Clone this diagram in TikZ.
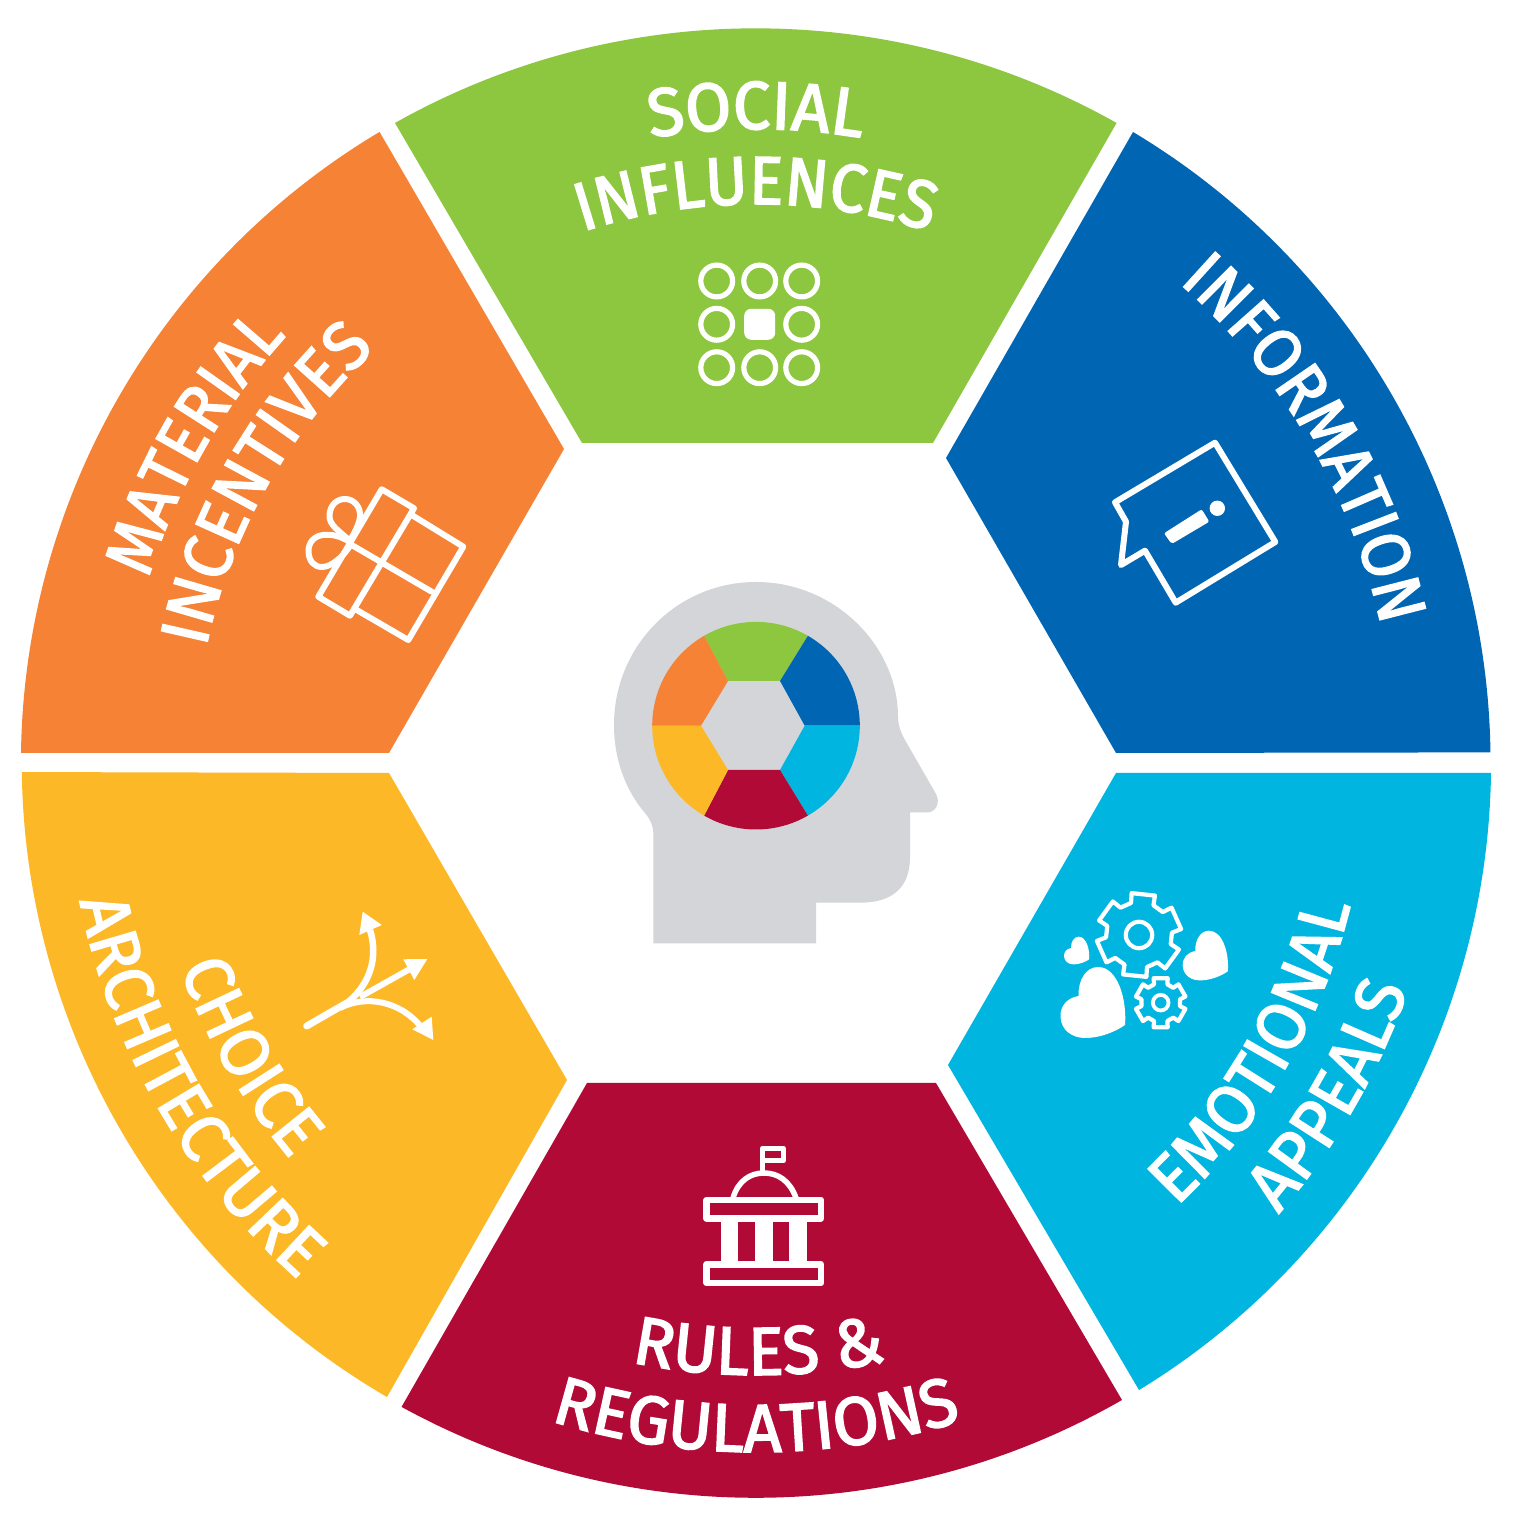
\documentclass[tikz,border=0pt]{standalone}
\usepackage{fontspec}
\usetikzlibrary{decorations.text}
\newfontfamily\labfont[FakeStretch=0.985,FakeBold=2.4]{Fira Sans}
\newfontfamily\labnarrow[FakeStretch=0.945,FakeBold=2.4]{Fira Sans}
\definecolor{cgreen}{HTML}{8DC63F}
\definecolor{cblue}{HTML}{0065B3}
\definecolor{ccyan}{HTML}{00B6E0}
\definecolor{cred}{HTML}{B20A37}
\definecolor{cyellow}{HTML}{FDB827}
\definecolor{corange}{HTML}{F58235}
\definecolor{cgray}{HTML}{D4D5D9}
\tikzset{
  iconline/.style={draw=white,line width=6pt,line join=round,line cap=round},
  iconthin/.style={draw=white,line width=4.2pt,line join=round,line cap=round},
  iconfill/.style={fill=white,draw=none}
}
% [font] baseline radius, start angle, end angle, text
\newcommand\arclabel[5][\labfont]{%
  \path[decorate,decoration={text along path,text={|\fontsize{68}{68}#1\color{white}|#5},text align=center}]
    ([shift={(#3:#2)}]756,763) arc[start angle=#3,end angle=#4,radius=#2];}
\newcommand\heartshape[3]{%
  \fill[white,shift={(#1,#2)},scale=#3] (64.5,58) .. controls (66.5,33) and (57.5,0) .. (37.5,0)
    .. controls (25.5,0) and (17.5,13) .. (18,29) .. controls (6.5,31) and (-0.5,39) .. (0,50)
    .. controls (0.5,63) and (11.5,71) .. (24.5,71) .. controls (39.5,71) and (54.5,65) .. (64.5,58) -- cycle;}
% cx cy outer root rotation
\newcommand\gearshape[5]{%
  \draw[iconthin,shift={(#1,#2)},rotate=#5] (-16:#3)
    \foreach \k in {0,60,...,300}{ -- (\k-16:#3) -- (\k+16:#3) -- (\k+20:#4) -- (\k+40:#4) } -- cycle;}
\begin{document}
\begin{tikzpicture}[x=1pt,y=1pt]
\useasboundingbox (0,0) rectangle (1514,1526);
\fill[white] (0,0) rectangle (1514,1526);
\begin{scope}[yscale=-1,shift={(0,-1526)}]
  % wheel
  \fill[cgreen] (395,123) arc[start angle=-119.4,end angle=-60.6,radius=735] -- (933,443) -- (582,443) -- cycle;
  \fill[cblue] (1133,132) arc[start angle=-59.1,end angle=-0.8,radius=735] -- (1116,753) -- (946,458) -- cycle;
  \fill[ccyan] (1491,773) arc[start angle=0.8,end angle=58.6,radius=735] -- (948,1065) -- (1116,773) -- cycle;
  \fill[cred] (1122,1400) arc[start angle=60.1,end angle=118.8,radius=735] -- (587,1083) -- (936,1083) -- cycle;
  \fill[cyellow] (387,1397) arc[start angle=120.2,end angle=179.2,radius=735] -- (389,773) -- (567,1080) -- cycle;
  \fill[corange] (21,753) arc[start angle=180.8,end angle=239.2,radius=735] -- (564,449) -- (389,753) -- cycle;
  % head
  \fill[cgray] (653.3,943.3) -- (653.3,833) .. controls (653,825) and (650,819) .. (645,813)
    .. controls (626,791) and (614,760) .. (614,725) .. controls (614,646) and (677,582) .. (756,582)
    .. controls (835,582) and (898,646) .. (898,717) .. controls (898,725) and (901,733) .. (905,740)
    -- (936,794) .. controls (941,803) and (935,812.3) .. (928,812.3) -- (910,812.3) -- (910,857)
    .. controls (910,888) and (892,902.7) .. (860,902.7) -- (816,902.7) -- (816,943.3) -- cycle;
  % mini wheel
  \fill[cgreen] (704.1,635.8) arc[start angle=-120,end angle=-60,radius=103.8] -- (780,681) -- (728,681) -- cycle;
  \fill[cblue] (807.9,635.8) arc[start angle=-60,end angle=0,radius=103.8] -- (804.7,725.7) -- (780,681) -- cycle;
  \fill[ccyan] (859.8,725.7) arc[start angle=0,end angle=60,radius=103.8] -- (780,770) -- (804.7,725.7) -- cycle;
  \fill[cred] (807.9,815.6) arc[start angle=60,end angle=120,radius=103.8] -- (728,770) -- (780,770) -- cycle;
  \fill[cyellow] (704.1,815.6) arc[start angle=120,end angle=180,radius=103.8] -- (701,725.7) -- (728,770) -- cycle;
  \fill[corange] (652.2,725.7) arc[start angle=180,end angle=240,radius=103.8] -- (728,681) -- (701,725.7) -- cycle;
  % social icon
  \foreach \x in {716.7,759.7,801.7}{\foreach \y in {281,324.3,367.7}{
     \ifdim\x pt=759.7pt \ifdim\y pt=324.3pt \else \draw[draw=white,line width=5.2pt] (\x,\y) circle[radius=15.9]; \fi
     \else \draw[draw=white,line width=5.2pt] (\x,\y) circle[radius=15.9]; \fi}}
  \fill[white,rounded corners=7pt] (744.2,308.8) rectangle (775.2,339.8);
  % info icon
  \draw[iconline] (1215,442.7) -- (1275.3,542) -- (1175.7,602.7) -- (1145,550.7) -- (1121,565) -- (1126,521.7) -- (1115,502.3) -- cycle;
  \fill[white,rounded corners=2pt] (1164,533.3) -- (1201.7,509.3) -- (1209.3,521.7) -- (1171.7,544) -- cycle;
  \fill[white] (1217.3,508.3) circle[radius=7.7];
  % emotion icon
  \gearshape{1139}{935}{42.5}{33}{-84}
  \draw[draw=white,line width=4.2pt] (1139,935) circle[radius=13.2];
  \gearshape{1160.7}{1002.7}{25.5}{19.5}{-90}
  \draw[draw=white,line width=3.8pt] (1160.7,1002.7) circle[radius=7.8];
  \heartshape{1060.5}{967}{1}
  \heartshape{1182.7}{930.7}{0.7}
  \heartshape{1064}{936.7}{0.39}
  % building icon
  \draw[iconline,line width=5.5pt] (762.7,1172) -- (762.7,1148.3) -- (783.3,1148.3) -- (783.3,1160.7) -- (762.7,1160.7);
  \draw[draw=white,line width=5.5pt] (733,1198) .. controls (738,1181) and (750,1173) .. (764,1173) .. controls (778,1173) and (790,1181) .. (796,1198);
  \fill[white] (720.7,1218) rectangle (807.3,1265);
  \fill[cred] (738.3,1222) rectangle (754.7,1261);
  \fill[cred] (773,1222) rectangle (789.3,1261);
  \draw[iconline,line width=6.5pt] (706.7,1200) rectangle (821,1218.3);
  \draw[iconline,line width=6.5pt] (706.7,1264.3) rectangle (821,1283);
  % arrows icon
  \draw[iconline,line width=7pt] (306.7,1026) -- (346.7,1003);
  \draw[draw=white,line width=6.5pt] (344,1005) .. controls (372,985) and (378,955) .. (370,930);
  \draw[draw=white,line width=6pt] (360,997) -- (409,969.5);
  \draw[draw=white,line width=6pt] (340,1008) .. controls (365,995) and (400,1000) .. (422,1028);
  \fill[white] (362.7,911.7) -- (381.7,925) -- (359.3,935) -- cycle;
  \fill[white] (427.3,959) -- (414.3,980) -- (403.3,959.3) -- cycle;
  \fill[white] (433.3,1040) -- (412.3,1029.3) -- (431.7,1016.7) -- cycle;
  % gift icon
  \draw[iconline] (381.7,489.3) -- (414,508.3) -- (350,615.7) -- (318.3,596.7) -- cycle;
  \draw[iconline] (411.7,515) -- (463.3,546.7) -- (408.3,640) -- (356.7,610);
  \draw[iconline] (351.7,545) -- (431.7,591.7);
  \draw[iconline] (350,541) .. controls (338,530) and (329,525) .. (329.5,515) .. controls (330,505) and (337,499) .. (345,499) .. controls (354,499) and (361,507) .. (360,517) .. controls (359,525) and (354,533) .. (350,541);
  \draw[iconline] (350,542) .. controls (340,536) and (332,534) .. (323,535) .. controls (314,536) and (308,543) .. (308.5,552) .. controls (309,561) and (314,567) .. (322,567) .. controls (332,567) and (345,555) .. (351,544);
\end{scope}
% labels (y up, wheel centre at 756,763)
\arclabel{634}{130}{50}{SOCIAL}
\arclabel[\labnarrow]{559}{130}{50}{INFLUENCES}
\arclabel[\labnarrow]{640}{70.5}{-9.5}{INFORMATION}
\arclabel{611}{-70}{10}{EMOTIONAL}
\arclabel{690}{-70}{10}{APPEALS}
\arclabel{612}{-129.75}{-49.75}{RULES {\&}}
\arclabel{689}{-130}{-50}{REGULATIONS}
\arclabel{611}{170}{250}{CHOICE}
\arclabel{690}{170}{250}{ARCHITECTURE}
\arclabel[\labnarrow]{635}{190.4}{110.4}{MATERIAL}
\arclabel{562}{190.4}{110.4}{INCENTIVES}
\end{tikzpicture}
\end{document}
